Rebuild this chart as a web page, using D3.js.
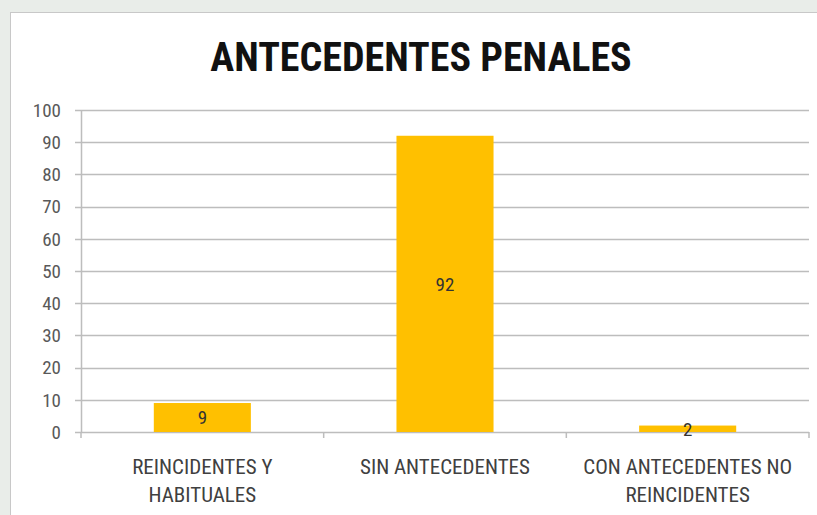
<!DOCTYPE html>
<html>
<head>
<meta charset="utf-8">
<script src="https://cdn.jsdelivr.net/npm/d3@7"></script>
<style>
  body { margin: 0; background: #e9ede9; }
  svg { display: block; }
  text { font-family: "Liberation Sans Narrow", "Roboto Condensed", "Liberation Sans", sans-serif; }
</style>
</head>
<body>
<svg width="817" height="515"></svg>
<script>
// chart data
var categories = [['REINCIDENTES Y', 'HABITUALES'], ['SIN ANTECEDENTES'], ['CON ANTECEDENTES NO', 'REINCIDENTES']];
var values = [9, 92, 2];
var yTicks = [0, 10, 20, 30, 40, 50, 60, 70, 80, 90, 100];
var title = 'ANTECEDENTES PENALES';

var svg = d3.select('svg');
var svgWidth = +svg.attr('width');
var svgHeight = +svg.attr('height');

// white chart area on top of the grey page
svg.append('rect')
    .attr('x', 10.5).attr('y', 12.5)
    .attr('width', svgWidth).attr('height', svgHeight)
    .attr('fill', '#ffffff')
    .attr('stroke', '#c8c8c8');

var padding = {t: 110, r: 8, b: 83, l: 81};

var xScale = d3.scaleBand()
    .domain(d3.range(values.length))
    .range([padding.l, svgWidth - padding.r])
    .paddingInner(0.6)
    .paddingOuter(0.3);

var yScale = d3.scaleLinear()
    .domain([0, 100])
    .range([svgHeight - padding.b, padding.t]);

// gridlines
svg.append('g')
    .selectAll('line')
    .data(yTicks)
    .enter()
    .append('line')
    .attr('x1', padding.l - 6)
    .attr('x2', svgWidth - padding.r)
    .attr('y1', function(d) { return Math.round(yScale(d)) + 0.5; })
    .attr('y2', function(d) { return Math.round(yScale(d)) + 0.5; })
    .attr('stroke', '#bdbdbd')
    .attr('stroke-width', 1.5);

// y axis line
svg.append('line')
    .attr('x1', padding.l + 0.5).attr('x2', padding.l + 0.5)
    .attr('y1', yScale(100)).attr('y2', yScale(0) + 1)
    .attr('stroke', '#bdbdbd')
    .attr('stroke-width', 1.5);

// y labels
svg.append('g')
    .selectAll('text')
    .data(yTicks)
    .enter()
    .append('text')
    .attr('x', padding.l - 20)
    .attr('y', function(d) { return yScale(d); })
    .attr('dy', '0.36em')
    .attr('text-anchor', 'end')
    .attr('font-size', 19)
    .attr('fill', '#595959')
    .text(function(d) { return d; });

// category ticks
var step = xScale.step();
svg.append('g')
    .selectAll('line')
    .data(d3.range(values.length + 1))
    .enter()
    .append('line')
    .attr('x1', function(i) { return padding.l + i * step; })
    .attr('x2', function(i) { return padding.l + i * step; })
    .attr('y1', yScale(0))
    .attr('y2', yScale(0) + 6)
    .attr('stroke', '#bdbdbd')
    .attr('stroke-width', 1.5);

// bars
svg.append('g')
    .selectAll('rect')
    .data(values)
    .enter()
    .append('rect')
    .attr('x', function(d, i) { return xScale(i); })
    .attr('y', function(d) { return yScale(d); })
    .attr('width', xScale.bandwidth())
    .attr('height', function(d) { return yScale(0) - yScale(d); })
    .attr('fill', '#ffc000');

// value labels
svg.append('g')
    .selectAll('text')
    .data(values)
    .enter()
    .append('text')
    .attr('x', function(d, i) { return xScale(i) + xScale.bandwidth() / 2; })
    .attr('y', function(d) { return (yScale(d) + yScale(0)) / 2; })
    .attr('dy', '0.36em')
    .attr('text-anchor', 'middle')
    .attr('font-size', 19)
    .attr('fill', '#333333')
    .text(function(d) { return d; });

// category labels
var catG = svg.append('g')
    .selectAll('text')
    .data(categories)
    .enter()
    .append('text')
    .attr('text-anchor', 'middle')
    .attr('font-size', 21)
    .attr('fill', '#404040');

catG.selectAll('tspan')
    .data(function(d, i) { return d.map(function(s) { return {s: s, i: i}; }); })
    .enter()
    .append('tspan')
    .attr('x', function(d) { return xScale(d.i) + xScale.bandwidth() / 2; })
    .attr('y', function(d, j) { return yScale(0) + 42 + j * 28; })
    .text(function(d) { return d.s; });

// title
svg.append('text')
    .attr('x', 421)
    .attr('y', 71)
    .attr('text-anchor', 'middle')
    .attr('font-size', 40)
    .attr('font-weight', 'bold')
    .attr('fill', '#111111')
    .text(title);
</script>
</body>
</html>
